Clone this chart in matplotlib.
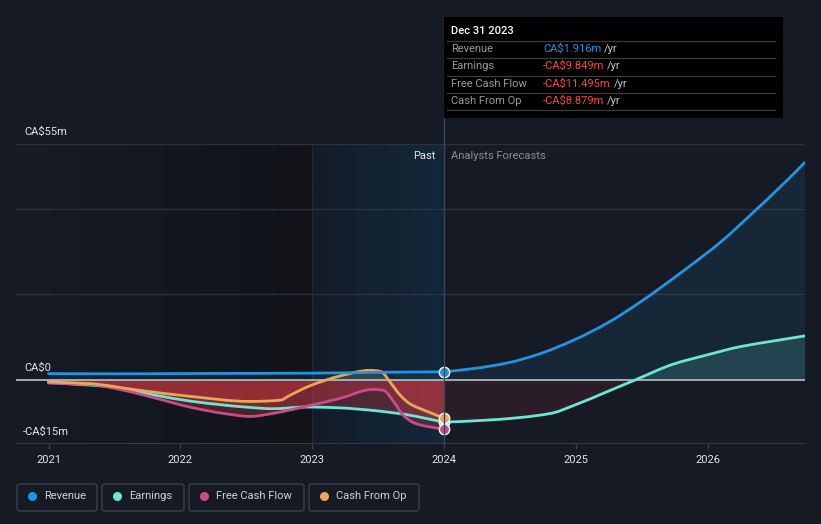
import numpy as np
import matplotlib
matplotlib.use("Agg")
import matplotlib.pyplot as plt
from matplotlib.patches import FancyBboxPatch, Rectangle, PathPatch
from matplotlib.path import Path
from matplotlib.lines import Line2D
from matplotlib.colors import LinearSegmentedColormap

plt.rcParams['font.family'] = ['Roboto', 'DejaVu Sans']

W, H = 821, 524
BG = '#151a24'

# ---------------- data (CA$ millions, x in fractional years) ----------------
rev_past_t = [2021.0, 2021.5, 2022.0, 2022.5, 2023.0, 2023.5, 2024.0]
rev_past_v = [1.5, 1.45, 1.5, 1.55, 1.6, 1.8, 1.916]
rev_fc_t = [2024.0, 2024.22, 2024.48, 2024.73, 2024.98, 2025.24, 2025.49, 2025.84, 2026.10, 2026.35, 2026.60, 2026.74]
rev_fc_v = [1.916, 2.65, 3.97, 6.15, 9.25, 13.3, 18.2, 26.0, 32.2, 39.2, 46.5, 50.8]

earn_past_t = [2021.0, 2021.44, 2021.82, 2022.07, 2022.53, 2022.70, 2022.96, 2023.21, 2023.46, 2023.72, 2023.87, 2024.0]
earn_past_v = [-0.6, -1.5, -3.6, -4.9, -6.4, -6.7, -6.3, -6.5, -7.1, -8.1, -9.0, -9.849]
earn_fc_t = [2024.0, 2024.36, 2024.81, 2024.98, 2025.24, 2025.45, 2025.74, 2025.99, 2026.25, 2026.50, 2026.74]
earn_fc_v = [-9.849, -9.3, -7.8, -6.0, -2.7, 0.0, 3.7, 5.8, 7.8, 9.1, 10.3]

fcf_t = [2021.0, 2021.31, 2021.57, 2021.82, 2022.07, 2022.33, 2022.53, 2022.70, 2022.96,
         2023.21, 2023.46, 2023.54, 2023.62, 2023.69, 2023.79, 2024.0]
fcf_v = [-0.7, -1.0, -2.4, -4.3, -6.3, -7.8, -8.5, -7.8, -6.1,
         -4.3, -2.2, -2.4, -5.1, -8.2, -10.2, -11.495]

cfo_t = [2021.0, 2021.31, 2021.69, 2022.07, 2022.53, 2022.76, 2022.83, 2022.98, 2023.21,
         2023.44, 2023.52, 2023.60, 2023.67, 2023.74, 2023.87, 2024.0]
cfo_v = [-0.47, -0.84, -2.4, -3.8, -5.0, -4.7, -3.6, -1.4, 0.93,
         2.26, 2.0, -0.84, -3.6, -5.5, -7.3, -8.879]

year_ticks = [2021, 2022, 2023, 2024, 2025, 2026]
y_labels = ['CA$55m', 'CA$0', '-CA$15m']
legend_names = ['Revenue', 'Earnings', 'Free Cash Flow', 'Cash From Op']
tooltip_date = 'Dec 31 2023'
tooltip_vals = ['CA$1.916m', '-CA$9.849m', '-CA$11.495m', '-CA$8.879m']

C_REV = '#2394df'
C_EARN = '#6ce5d3'
C_FCF = '#c94b8c'
C_CFO = '#e8a85a'
C_RED = '#cf3a44'

# ---------------- figure ----------------
fig = plt.figure(figsize=(W / 100, H / 100), dpi=100, facecolor=BG)

def fx(x):
    return x / W

def fy(y):
    return 1 - y / H

ax_l, ax_r, ax_t, ax_b = 16, 805, 144.3, 444.3
ax = fig.add_axes([fx(ax_l), fy(ax_b), fx(ax_r) - fx(ax_l), fy(ax_t) - fy(ax_b)])
ax.set_facecolor(BG)
x0 = 2021 + (ax_l - 48.5) / 131.8
x1 = 2021 + (ax_r - 48.5) / 131.8
ax.set_xlim(x0, x1)
ax.set_ylim(-15, 55)
for s in ax.spines.values():
    s.set_visible(False)

# background regions
cm_left = LinearSegmentedColormap.from_list('l', ['#161b25', '#111318'])
grad = np.linspace(0, 1, 256).reshape(1, -1)
ax.imshow(grad, cmap=cm_left, extent=[x0, 2023, -15, 55], aspect='auto', zorder=0)
cm_band = LinearSegmentedColormap.from_list('b', ['#131c28', '#13283c'])
ax.imshow(grad, cmap=cm_band, extent=[2023, 2024, -15, 55], aspect='auto', zorder=0)
ax.axvline(2023, color='#1f2a38', lw=0.8, zorder=0.5)

# gridlines
for gy in [20, 40, 55]:
    ax.axhline(gy, color='#2c313c', lw=1.0, zorder=1)
ax.axhline(-15, color='#3b404b', lw=1.2, zorder=1)


def hermite_path(t, v):
    """Smooth monotone (Fritsch-Carlson) curve through the points, as Bezier path."""
    t = np.asarray(t, float)
    v = np.asarray(v, float)
    h = np.diff(t)
    d = np.diff(v) / h
    n = len(t)
    m = np.zeros(n)
    m[0], m[-1] = d[0], d[-1]
    for i in range(1, n - 1):
        if d[i - 1] * d[i] <= 0:
            m[i] = 0.0
        else:
            w1 = 2 * h[i] + h[i - 1]
            w2 = h[i] + 2 * h[i - 1]
            m[i] = (w1 + w2) / (w1 / d[i - 1] + w2 / d[i])
    verts = [(t[0], v[0])]
    codes = [Path.MOVETO]
    for i in range(n - 1):
        verts += [(t[i] + h[i] / 3, v[i] + m[i] * h[i] / 3),
                  (t[i + 1] - h[i] / 3, v[i + 1] - m[i + 1] * h[i] / 3),
                  (t[i + 1], v[i + 1])]
        codes += [Path.CURVE4] * 3
    return verts, codes


def smooth_line(t, v, color, z=4):
    verts, codes = hermite_path(t, v)
    ax.add_patch(PathPatch(Path(verts, codes), facecolor='none', edgecolor=color,
                           lw=2.0, capstyle='round', joinstyle='round', zorder=z))


def smooth_fill(t, v, color, alpha, clip_neg):
    verts, codes = hermite_path(t, v)
    verts = verts + [(t[-1], 0), (t[0], 0), (t[0], v[0])]
    codes = codes + [Path.LINETO, Path.LINETO, Path.CLOSEPOLY]
    p = PathPatch(Path(verts, codes), facecolor=color, edgecolor='none', alpha=alpha, zorder=2)
    ax.add_patch(p)
    if clip_neg:
        r = Rectangle((t[0], -15), t[-1] - t[0], 15, transform=ax.transData)
    else:
        r = Rectangle((t[0], 0), t[-1] - t[0], 55, transform=ax.transData)
    p.set_clip_path(r)


# fills (negative parts red, positive parts tinted with series colour)
for (t, v, pc, pa) in [(cfo_t, cfo_v, '#c8c0a0', 0.18),
                       (earn_past_t, earn_past_v, C_EARN, 0.12),
                       (fcf_t, fcf_v, C_FCF, 0.12),
                       (rev_past_t, rev_past_v, C_REV, 0.10)]:
    smooth_fill(t, v, C_RED, 0.32, True)
    smooth_fill(t, v, pc, pa, False)
smooth_fill(rev_fc_t, rev_fc_v, C_REV, 0.11, False)
smooth_fill(earn_fc_t, earn_fc_v, C_RED, 0.12, True)
smooth_fill(earn_fc_t, earn_fc_v, C_EARN, 0.15, False)

ax.axhline(0, color='#b4b4b4', lw=1.3, zorder=3)

# lines
smooth_line(earn_past_t, earn_past_v, C_EARN)
smooth_line(earn_fc_t, earn_fc_v, C_EARN)
smooth_line(fcf_t, fcf_v, C_FCF)
smooth_line(cfo_t, cfo_v, C_CFO)
smooth_line(rev_past_t, rev_past_v, C_REV)
smooth_line(rev_fc_t, rev_fc_v, C_REV)

# markers at 2024
mk = dict(marker='o', markersize=7.5, markeredgecolor='white', markeredgewidth=1.0, zorder=6, clip_on=False)
ax.plot([earn_past_t[-1]], [earn_past_v[-1]], color=C_EARN, **mk)
ax.plot([fcf_t[-1]], [fcf_v[-1]], color=C_FCF, **mk)
ax.plot([cfo_t[-1]], [cfo_v[-1]], color=C_CFO, **mk)
ax.plot([rev_past_t[-1]], [rev_past_v[-1]], color=C_REV, **mk)

# x ticks
ax.set_xticks(year_ticks)
ax.set_xticklabels([str(y) for y in year_ticks])
ax.set_yticks([])
ax.tick_params(axis='x', length=3.5, width=1, color='#3b404b', labelcolor='#e6e6e6',
               labelsize=8, pad=4)

# y labels
fig.text(fx(24), fy(132), y_labels[0], color='#e6e6e6', fontsize=8, va='center', ha='left')
fig.text(fx(24), fy(368), y_labels[1], color='#e6e6e6', fontsize=8, va='center', ha='left')
fig.text(fx(23), fy(432), y_labels[2], color='#e6e6e6', fontsize=8, va='center', ha='left')

# Past / Analysts Forecasts
fig.text(fx(435), fy(156), 'Past', color='#e6e6e6', fontsize=8, va='center', ha='right')
fig.text(fx(451), fy(156), 'Analysts Forecasts', color='#8a8f99', fontsize=8, va='center', ha='left')

# vertical line at 2024
fig.add_artist(Line2D([fx(443.5), fx(443.5)], [fy(17), fy(444)], color='#3a4656', lw=1.0, zorder=5))

# tooltip
fig.add_artist(Rectangle((fx(444), fy(118)), fx(783) - fx(444), fy(17) - fy(118),
                         facecolor='#000000', edgecolor='none', zorder=7))
fig.text(fx(451), fy(31), tooltip_date, color='white', fontsize=8, va='center', ha='left',
         fontweight='medium', zorder=8)
for sy in [41, 58, 76, 93, 110]:
    fig.add_artist(Line2D([fx(447), fx(775)], [fy(sy), fy(sy)], color='#3c3c3c', lw=0.9, zorder=8))
row_y = [49, 66, 84, 101]
val_colors = [C_REV, '#f0474a', '#f0474a', '#f0474a']
fig.canvas.draw()
renderer = fig.canvas.get_renderer()
for name, val, col, ry in zip(legend_names, tooltip_vals, val_colors, row_y):
    fig.text(fx(451), fy(ry), name, color='#9a9a9a', fontsize=8, va='center', ha='left', zorder=8)
    t = fig.text(fx(543), fy(ry), val, color=col, fontsize=8, va='center', ha='left', zorder=8)
    bb = t.get_window_extent(renderer=renderer)
    fig.text(bb.x1 / W + fx(3), fy(ry), '/yr', color='#c8c8c8', fontsize=8, va='center',
             ha='left', zorder=8)

# legend boxes
boxes = [(17, 97), (102, 184), (189, 304), (309, 419)]
leg_colors = [C_REV, C_EARN, C_FCF, C_CFO]
for (bx0, bx1), name, col in zip(boxes, legend_names, leg_colors):
    fig.add_artist(FancyBboxPatch((fx(bx0), fy(511)), fx(bx1) - fx(bx0), fy(484) - fy(511),
                                  boxstyle='round,pad=0,rounding_size=0.004',
                                  facecolor=BG, edgecolor='#3b404b', lw=1.0, zorder=7))
    fig.add_artist(Line2D([fx(bx0 + 15)], [fy(496)], marker='o', markersize=6.5, color=col,
                          markeredgewidth=0, zorder=8))
    fig.text(fx(bx0 + 27), fy(496), name, color='#d2d2d2', fontsize=8, va='center',
             ha='left', zorder=8)

fig.savefig('out.png', dpi=100, facecolor=BG)
